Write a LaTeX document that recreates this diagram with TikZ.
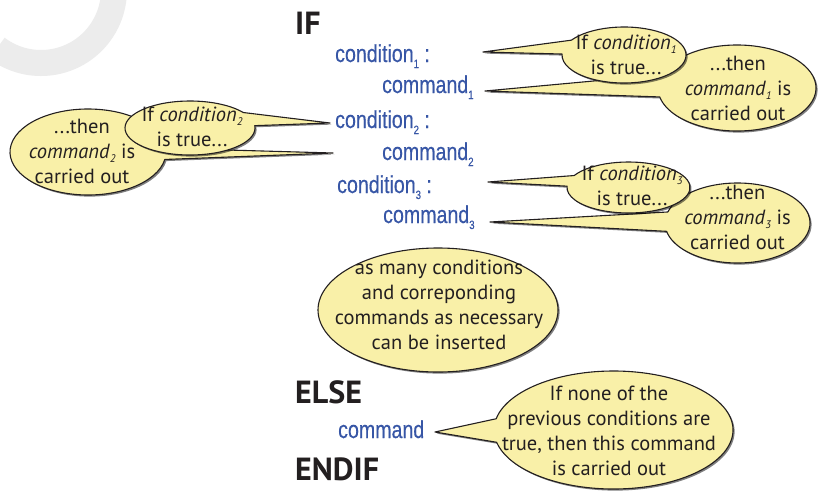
\documentclass[tikz,border=0pt]{standalone}
\usepackage{fontspec}
\setmainfont{PT Sans}
\newfontfamily\codefont[FakeStretch=0.8,FakeBold=0.35]{Liberation Sans}
\usetikzlibrary{shadows}

\definecolor{bubblefill}{HTML}{F9F0A8}
\definecolor{ink}{HTML}{231F20}
\definecolor{codeblue}{HTML}{3756A6}
\definecolor{ringgray}{HTML}{ECECEC}

% lowered index digits for code lines and for callout text
\newcommand\codeidx[1]{\raisebox{-6pt}{\fontsize{12}{12}\selectfont #1}}
\newcommand\noteidx[1]{\raisebox{-4pt}{\fontsize{11}{11}\selectfont\itshape #1}}

% callout: ellipse centre (#1,#2), radii #3/#4, outline arc from angle #5 to #6, tail tip #7
\newcommand\tailbubble[7]{%
  \path[bubble] (#1,#2) ++(#5:#3 and #4)
    arc[start angle=#5, end angle=#6, x radius=#3, y radius=#4] -- (#7) -- cycle;}

\tikzset{
  keyword/.style={anchor=base west, inner sep=0pt, text=ink,
    font=\fontsize{32}{32}\selectfont\bfseries},
  code/.style={anchor=base west, inner sep=0pt, text=codeblue,
    font=\codefont\fontsize{24.5}{24.5}\selectfont},
  bubble/.style={fill=bubblefill, draw=ink, line width=1.1pt, line join=round,
    drop shadow={shadow xshift=1.6pt, shadow yshift=-1.6pt, opacity=0.5, fill=black}},
  note/.style={align=center, inner sep=0pt, text=ink,
    font=\fontsize{20.5}{25}\selectfont},
}

\begin{document}
\begin{tikzpicture}[x=1pt, y=-1pt]
  \useasboundingbox (0,0) rectangle (818,490);
  \clip (0,0) rectangle (818,490);
  \fill[white] (0,0) rectangle (818,490);

  % decorative ring in the corner
  \draw[ringgray, line width=26pt] (41,-10) ++(127:73) arc[start angle=127, end angle=-20, radius=73];

  % keywords
  \node[keyword] (kif)    at (295,34)  {IF};
  \node[keyword] (kelse)  at (295,403) {ELSE};
  \node[keyword] (kendif) at (295,480) {ENDIF};

  % code lines
  \node[code] (cond1)   at (335,62)  {condition\codeidx{1} :};
  \node[code] (cmd1)    at (382,93)  {command\codeidx{1}};
  \node[code] (cond2)   at (335,128) {condition\codeidx{2} :};
  \node[code] (cmd2)    at (382,160) {command\codeidx{2}};
  \node[code] (cond3)   at (337,193) {condition\codeidx{3} :};
  \node[code] (cmd3)    at (383,223) {command\codeidx{3}};
  \node[code] (cmdelse) at (338,438) {command};

  % tail tips of the callouts
  \coordinate (tip1a) at (483,52);
  \coordinate (tip1b) at (485,91);
  \coordinate (tip2a) at (330,123);
  \coordinate (tip2b) at (333,153);
  \coordinate (tip3a) at (488,182);
  \coordinate (tip3b) at (490,222);
  \coordinate (tipelse) at (435,432);

  % first condition
  \tailbubble{737}{88}{79}{43}{198}{528}{tip1b}
  \node[note] (n1b) at (738,88) {...then\\\textit{command}\noteidx{1} is\\carried out};
  \tailbubble{624}{55}{62}{28}{212}{542}{tip1a}
  \node[note] (n1a) at (626,55) {If \textit{condition}\noteidx{1}\\is true...};

  % second condition
  \tailbubble{88}{152}{78}{43}{10}{355}{tip2b}
  \node[note] (n2b) at (82,151) {...then\\\textit{command}\noteidx{2} is\\carried out};
  \tailbubble{190}{128}{65}{27}{355}{685}{tip2a}
  \node[note] (n2a) at (192,127) {If \textit{condition}\noteidx{2}\\is true...};

  % third condition
  \tailbubble{737.5}{223}{72.5}{40}{196}{528}{tip3b}
  \node[note] (n3b) at (737.5,217) {...then\\\textit{command}\noteidx{3} is\\carried out};
  \tailbubble{628.5}{187.5}{61.5}{25.5}{208}{543}{tip3a}
  \node[note] (n3a) at (632,186) {If \textit{condition}\noteidx{3}\\is true...};

  % general remark
  \path[bubble] (438,310) ellipse[x radius=120, y radius=62];
  \node[note] (nmany) at (439,305) {as many conditions\\and correponding\\commands as necessary\\can be inserted};

  % else branch
  \tailbubble{613.5}{430}{119.5}{59}{191}{528}{tipelse}
  \node[note] (nelse) at (609,431) {If none of the\\previous conditions are\\true, then this command\\is carried out};
\end{tikzpicture}
\end{document}
